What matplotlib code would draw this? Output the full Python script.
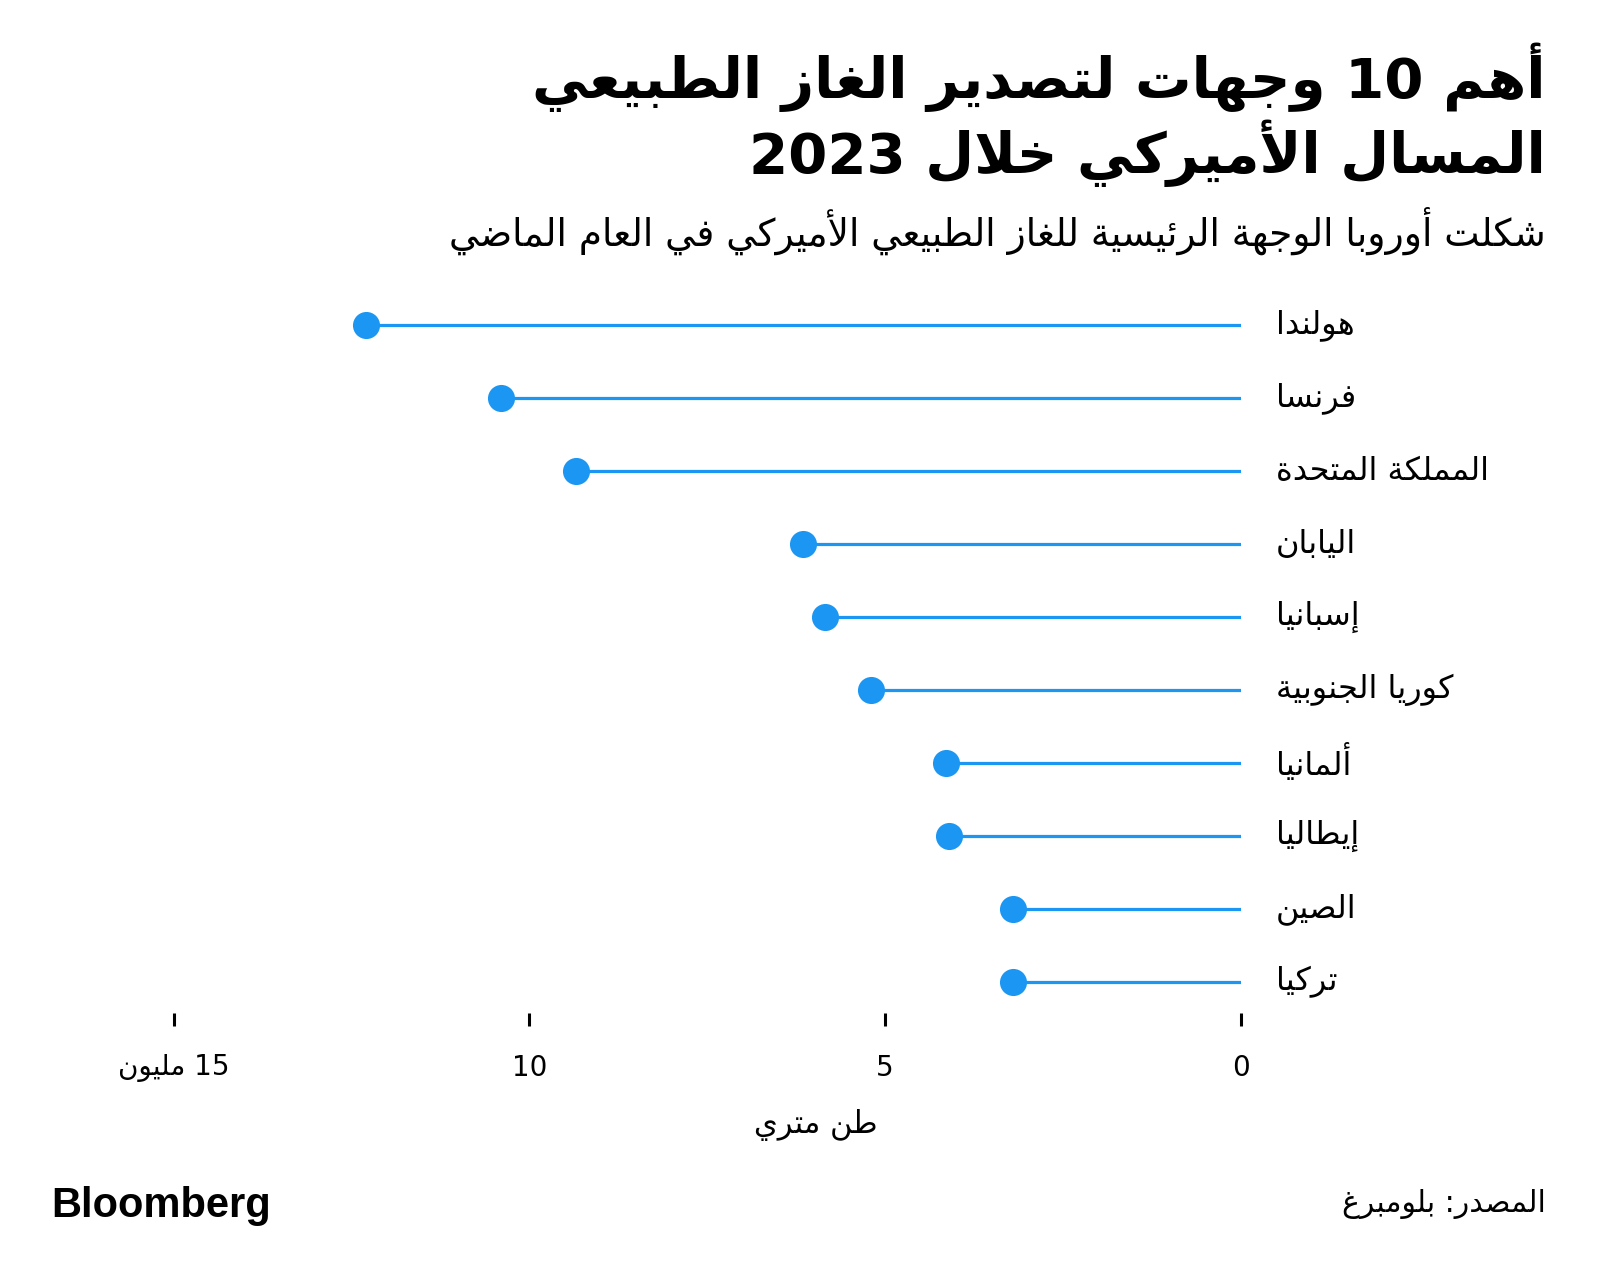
import re
import matplotlib
matplotlib.use("Agg")
import matplotlib.pyplot as plt

# ---------------- data ----------------
countries = ["هولندا", "فرنسا", "المملكة المتحدة", "اليابان", "إسبانيا",
             "كوريا الجنوبية", "ألمانيا", "إيطاليا", "الصين", "تركيا"]
values = [12.3, 10.4, 9.35, 6.15, 5.85, 5.2, 4.15, 4.1, 3.2, 3.2]
tick_values = [0, 5, 10, 15]
tick_numbers = ["0", "5", "10", "15"]
tick_unit = "مليون"
title_lines = ["أهم 10 وجهات لتصدير الغاز الطبيعي", "المسال الأميركي خلال 2023"]
subtitle = "شكلت أوروبا الوجهة الرئيسية للغاز الطبيعي الأميركي في العام الماضي"
unit_label = "طن متري"
source = "المصدر: بلومبرغ"
logo = "Bloomberg"

BLUE = "#1B96F3"

# ---------------- minimal Arabic shaping ----------------
FORMS = {
    'ء': (0xFE80, None, None, None),
    'آ': (0xFE81, 0xFE82, None, None),
    'أ': (0xFE83, 0xFE84, None, None),
    'ؤ': (0xFE85, 0xFE86, None, None),
    'إ': (0xFE87, 0xFE88, None, None),
    'ئ': (0xFE89, 0xFE8A, 0xFE8B, 0xFE8C),
    'ا': (0xFE8D, 0xFE8E, None, None),
    'ب': (0xFE8F, 0xFE90, 0xFE91, 0xFE92),
    'ة': (0xFE93, 0xFE94, None, None),
    'ت': (0xFE95, 0xFE96, 0xFE97, 0xFE98),
    'ث': (0xFE99, 0xFE9A, 0xFE9B, 0xFE9C),
    'ج': (0xFE9D, 0xFE9E, 0xFE9F, 0xFEA0),
    'ح': (0xFEA1, 0xFEA2, 0xFEA3, 0xFEA4),
    'خ': (0xFEA5, 0xFEA6, 0xFEA7, 0xFEA8),
    'د': (0xFEA9, 0xFEAA, None, None),
    'ذ': (0xFEAB, 0xFEAC, None, None),
    'ر': (0xFEAD, 0xFEAE, None, None),
    'ز': (0xFEAF, 0xFEB0, None, None),
    'س': (0xFEB1, 0xFEB2, 0xFEB3, 0xFEB4),
    'ش': (0xFEB5, 0xFEB6, 0xFEB7, 0xFEB8),
    'ص': (0xFEB9, 0xFEBA, 0xFEBB, 0xFEBC),
    'ض': (0xFEBD, 0xFEBE, 0xFEBF, 0xFEC0),
    'ط': (0xFEC1, 0xFEC2, 0xFEC3, 0xFEC4),
    'ظ': (0xFEC5, 0xFEC6, 0xFEC7, 0xFEC8),
    'ع': (0xFEC9, 0xFECA, 0xFECB, 0xFECC),
    'غ': (0xFECD, 0xFECE, 0xFECF, 0xFED0),
    'ف': (0xFED1, 0xFED2, 0xFED3, 0xFED4),
    'ق': (0xFED5, 0xFED6, 0xFED7, 0xFED8),
    'ك': (0xFED9, 0xFEDA, 0xFEDB, 0xFEDC),
    'ل': (0xFEDD, 0xFEDE, 0xFEDF, 0xFEE0),
    'م': (0xFEE1, 0xFEE2, 0xFEE3, 0xFEE4),
    'ن': (0xFEE5, 0xFEE6, 0xFEE7, 0xFEE8),
    'ه': (0xFEE9, 0xFEEA, 0xFEEB, 0xFEEC),
    'و': (0xFEED, 0xFEEE, None, None),
    'ى': (0xFEEF, 0xFEF0, None, None),
    'ي': (0xFEF1, 0xFEF2, 0xFEF3, 0xFEF4),
}
LAMALEF = {'آ': (0xFEF5, 0xFEF6), 'أ': (0xFEF7, 0xFEF8),
           'إ': (0xFEF9, 0xFEFA), 'ا': (0xFEFB, 0xFEFC)}


def joins_left(c):
    f = FORMS.get(c)
    return f is not None and f[2] is not None


def joins_right(c):
    f = FORMS.get(c)
    return f is not None and f[1] is not None


def shape(text):
    chars = list(text)
    units = []
    i = 0
    while i < len(chars):
        c = chars[i]
        if c == 'ل' and i + 1 < len(chars) and chars[i + 1] in LAMALEF:
            units.append(('LA', chars[i + 1]))
            i += 2
        else:
            units.append(('C', c))
            i += 1
    out = []
    for k, (kind, c) in enumerate(units):
        prev = units[k - 1] if k > 0 else None
        nxt = units[k + 1] if k + 1 < len(units) else None
        prev_conn = prev is not None and prev[0] == 'C' and joins_left(prev[1])
        if kind == 'LA':
            iso, fin = LAMALEF[c]
            out.append(chr(fin if prev_conn else iso))
            continue
        f = FORMS.get(c)
        if f is None:
            out.append(c)
            continue
        next_conn = nxt is not None and (
            (nxt[0] == 'C' and joins_right(nxt[1])) or nxt[0] == 'LA')
        can_r = prev_conn and f[1] is not None
        can_l = next_conn and f[2] is not None
        if can_r and can_l:
            out.append(chr(f[3]))
        elif can_r:
            out.append(chr(f[1]))
        elif can_l:
            out.append(chr(f[2]))
        else:
            out.append(chr(f[0]))
    return ''.join(out)


def rtl(text):
    """Logical RTL text -> visual (left-to-right glyph order) string."""
    s = shape(text)[::-1]
    return re.sub(r'[0-9A-Za-z.,]+', lambda m: m.group(0)[::-1], s)


AR = ['DejaVu Sans']

# ---------------- figure ----------------
W, H = 1600, 1285
fig = plt.figure(figsize=(W / 100, H / 100), dpi=100)
fig.patch.set_facecolor('white')


def fx(px):
    return px / W


def fy(py):
    return 1 - py / H


ax_left, ax_right = 173.5, 1241
ax_top, ax_bottom = 289, 1013
ax = fig.add_axes([fx(ax_left), fy(ax_bottom), fx(ax_right - ax_left),
                   (ax_bottom - ax_top) / H])
ypos = list(range(len(countries)))
ax.hlines(ypos, 0, values, color=BLUE, lw=2.3, zorder=2)
ax.plot(values, ypos, 'o', color=BLUE, ms=19.5, mew=0, zorder=3)
ax.set_xlim(15, 0)
ax.set_ylim(9.425, -0.5)
for s in ax.spines.values():
    s.set_visible(False)
ax.set_yticks([])
ax.set_xticks(tick_values)
labels = list(tick_numbers)
labels[-1] = rtl(tick_numbers[-1] + " " + tick_unit)
ax.set_xticklabels(labels, family=AR, fontsize=20)
ax.tick_params(axis='x', length=9.4, width=2.2, color='black', pad=20)
ax.set_facecolor('none')

# country labels
trans = ax.get_yaxis_transform()
for y, name in zip(ypos, countries):
    ax.text((1276 - ax_left) / (ax_right - ax_left), y, rtl(name),
            transform=trans, ha='left', va='center', fontsize=23,
            family=AR, color='black', clip_on=False)

# titles
fig.text(fx(1546), fy(77), rtl(title_lines[0]), ha='right', va='center',
         fontsize=40.5, fontweight='bold', family=AR, color='black')
fig.text(fx(1546), fy(153), rtl(title_lines[1]), ha='right', va='center',
         fontsize=40.5, fontweight='bold', family=AR, color='black')
fig.text(fx(1546), fy(231), rtl(subtitle), ha='right', va='center',
         fontsize=27, family=AR, color='black')

# unit label
fig.text(fx(816), fy(1125), rtl(unit_label), ha='center', va='center',
         fontsize=22, family=AR, color='black')

# footer
fig.text(fx(51), fy(1206), logo, ha='left', va='center', fontsize=30,
         fontweight='bold', family=['Liberation Sans', 'DejaVu Sans'],
         color='black')
fig.text(fx(1546), fy(1204), rtl(source), ha='right', va='center',
         fontsize=21.5, family=AR, color='black')

fig.savefig('out.png', dpi=100, facecolor='white')
